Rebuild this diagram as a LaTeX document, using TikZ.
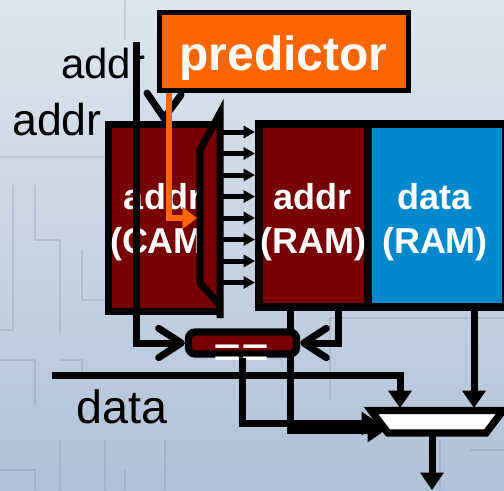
\documentclass[tikz,border=0pt]{standalone}
\usepackage{fontspec}
\setmainfont{Liberation Sans}
\usetikzlibrary{arrows.meta}
\definecolor{camred}{RGB}{120,0,0}
\definecolor{predorange}{RGB}{255,102,0}
\definecolor{ramblue}{RGB}{0,136,204}
\definecolor{bgtop}{RGB}{222,229,238}
\definecolor{bgbot}{RGB}{176,194,216}
\definecolor{mazec}{RGB}{130,146,170}
\begin{document}
\begin{tikzpicture}[x=0.75pt,y=-0.75pt,
  wire/.style={draw=black,line width=5.25pt},
  thinbus/.style={draw=black,line width=3.75pt,-{Triangle[length=8.5pt,width=9pt]}},
  tri/.style={-{Triangle[length=13pt,width=17pt]}},
  barb/.style={-{Straight Barb[length=17pt,width=22pt,round]}},
  lbl/.style={anchor=base west,inner sep=0pt,text=black},
  wlbl/.style={anchor=base,inner sep=0pt,text=white,font=\bfseries\fontsize{27}{27}\selectfont},
  maze/.style={draw=mazec,line width=1.5pt,opacity=0.3},
  box/.style={draw=black,inner sep=0pt},
]
\useasboundingbox (0,0) rectangle (504,490);
\shade[top color=bgtop,bottom color=bgbot] (0,0) rectangle (504,490);
% faint circuit pattern
\draw[maze] (0,157) -- (105,157);
\draw[maze] (13,185) -- (13,330) -- (0,330);
\draw[maze] (35,185) -- (35,240) -- (60,240) -- (60,335);
\draw[maze] (0,360) -- (35,360) -- (35,405);
\draw[maze] (82,250) -- (82,300) -- (105,300);
\draw[maze] (60,360) -- (82,360) -- (82,375);
\draw[maze] (0,470) -- (35,470) -- (35,490);
\draw[maze] (60,440) -- (60,490);
\draw[maze] (105,440) -- (105,490);
\draw[maze] (125,470) -- (125,490);
\draw[maze] (165,440) -- (165,490);
\draw[maze] (125,0) -- (125,40);
\draw[maze] (330,318) -- (504,318);
\draw[maze] (330,318) -- (330,400);
\draw[maze] (440,440) -- (440,490);
\draw[maze] (470,450) -- (504,450);

% labels
\node[lbl,font=\fontsize{31.5}{31.5}\selectfont] (addr1) at (61,78) {addr};
\node[lbl,font=\fontsize{33.5}{33.5}\selectfont] (addr2) at (12,135) {addr};
\node[lbl,font=\fontsize{35}{35}\selectfont] (datal) at (76,423) {data};

% predictor
\node[box,line width=3.75pt,fill=predorange,minimum width=187.1pt,minimum height=58.5pt] (pred) at (284.25,51.5) {};
\node[anchor=base,inner sep=0pt,text=white,font=\bfseries\fontsize{36}{36}\selectfont] (predtxt) at (283.5,70) {predictor};

% CAM
\node[box,line width=5.25pt,fill=camred,minimum width=83.6pt,minimum height=140.25pt] (cam) at (164.25,217.5) {};
\node[wlbl] (camt1) at (163,209) {addr};
\node[wlbl] (camt2) at (163,253) {(CAM)};
\coordinate (tzA) at (220,318);
\coordinate (tzB) at (220,113);
\coordinate (tzC) at (200,150);
\coordinate (tzD) at (200,283);
\coordinate (tzE) at (220,305);
\filldraw[fill=camred,line width=5.25pt] (tzA) -- (tzB) -- (tzC) -- (tzD) -- (tzE);

% RAM
\node[box,line width=6pt,fill=camred,minimum width=81.75pt,minimum height=136.9pt] (ramaddr) at (313.5,215.25) {};
\node[box,line width=6pt,fill=ramblue,minimum width=103.5pt,minimum height=136.9pt] (ramdata) at (437,215.25) {};
\node[wlbl] (rat1) at (312.5,209) {addr};
\node[wlbl] (rat2) at (313.5,253) {(RAM)};
\node[wlbl] (rdt1) at (434.5,209) {data};
\node[wlbl] (rdt2) at (435,253) {(RAM)};

% match lines
\foreach \i in {0,...,7} {
  \coordinate (s\i) at (222,{132+21.5*\i});
  \draw[thinbus] (s\i) -- (s\i -| ramaddr.west);
}

% lines passing under the comparator
\coordinate (bq) at (290,306);
\coordinate (muxB) at (385,430.5);
\draw[wire,tri] (bq) |- (muxB);
\coordinate (rq) at (338,306);

% comparator
\node[box,line width=5.5pt,fill=camred,rounded corners=5pt,minimum width=81pt,minimum height=16.5pt] (cmp) at (242.5,343) {};
\node[anchor=base,inner sep=0pt,text=white,font=\fontsize{36}{36}\selectfont] (eq) at (241.5,368.5) {==};
\draw[wire,barb] (rq) |- (cmp.east);

\coordinate (addrtop) at (136.5,42);
\draw[wire,barb] (addrtop) |- (cmp.west);
\coordinate (muxA) at (379,423.5);
\draw[wire,tri] (cmp.south) |- (muxA);

% data in and data RAM out
\coordinate (dataL) at (52,375);
\coordinate (muxD) at (400,408);
\draw[wire,tri] (dataL) -| (muxD);
\coordinate (dq) at (474,306);
\coordinate (muxR) at (474,408);
\draw[wire,tri] (dq) -- (muxR);

% mux
\coordinate (m1) at (371,410.5);
\coordinate (m2) at (503,410.5);
\coordinate (m3) at (486,433);
\coordinate (m4) at (388,433);
\filldraw[fill=white,line width=5.5pt] (m1) -- (m2) -- (m3) -- (m4) -- cycle;
\coordinate (mo) at (432,433);
\coordinate (outE) at (432,490);
\draw[wire,tri] (mo) -- (outE);

% addr arrow head into CAM
\coordinate (v1) at (147,93);
\coordinate (vt) at (164,118);
\coordinate (v2) at (181,95);
\draw[line width=5.25pt,line cap=round] (v1) -- (vt) -- (v2);

% predictor output
\coordinate (ot) at (169,93);
\coordinate (oe) at (197,218);
\draw[predorange,line width=5pt,-{Triangle[length=11pt,width=16pt]}] (ot) |- (oe);
\end{tikzpicture}
\end{document}
